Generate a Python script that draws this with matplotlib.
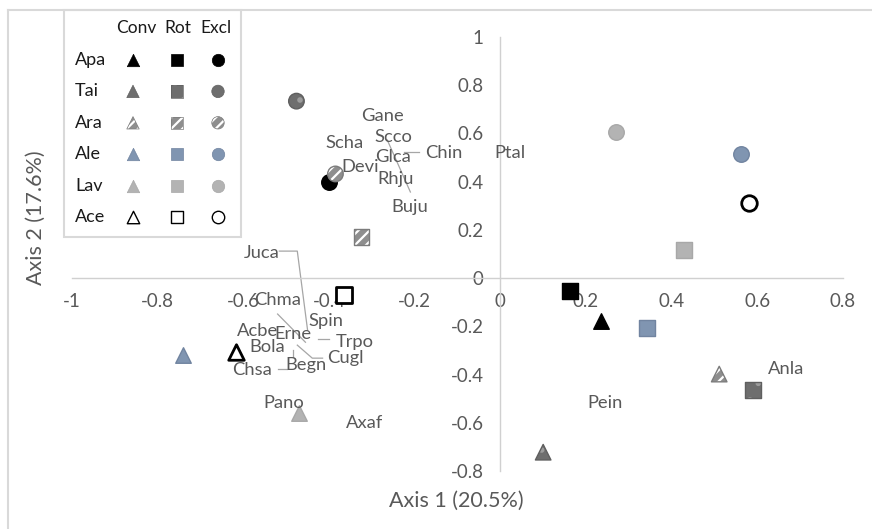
import matplotlib
matplotlib.use('Agg')
import matplotlib.pyplot as plt
from matplotlib.ticker import FixedLocator, FuncFormatter
from matplotlib.lines import Line2D
from matplotlib.patches import Rectangle

plt.rcParams['font.family'] = ['Lato', 'DejaVu Sans']
plt.rcParams['hatch.color'] = 'white'
plt.rcParams['hatch.linewidth'] = 1.6

# ---------------- data ----------------
groups = ['Apa', 'Tai', 'Ara', 'Ale', 'Lav', 'Ace']
treatments = ['Conv', 'Rot', 'Excl']

conv_x = [0.236, 0.100, 0.511, -0.742, -0.469, -0.616]
conv_y = [-0.178, -0.722, -0.398, -0.320, -0.560, -0.307]
rot_x = [0.163, 0.590, -0.324, 0.343, 0.429, -0.366]
rot_y = [-0.054, -0.465, 0.170, -0.207, 0.116, -0.071]
excl_x = [-0.401, -0.476, -0.385, 0.562, 0.271, 0.581]
excl_y = [0.398, 0.734, 0.432, 0.515, 0.606, 0.311]

species = ['Gane', 'Scco', 'Scha', 'Glca', 'Chin', 'Ptal', 'Devi', 'Rhju', 'Buju',
           'Juca', 'Chma', 'Spin', 'Acbe', 'Erne', 'Trpo', 'Bola', 'Cugl', 'Chsa',
           'Begn', 'Pano', 'Axaf', 'Pein', 'Anla']
species_x = [-0.275, -0.250, -0.364, -0.250, -0.133, 0.023, -0.327, -0.245, -0.212,
             -0.558, -0.520, -0.408, -0.567, -0.485, -0.341, -0.544, -0.362, -0.579,
             -0.453, -0.506, -0.317, 0.245, 0.667]
species_y = [0.672, 0.585, 0.560, 0.502, 0.519, 0.519, 0.461, 0.411, 0.295,
             0.104, -0.091, -0.178, -0.220, -0.232, -0.266, -0.286, -0.332, -0.382,
             -0.361, -0.519, -0.602, -0.519, -0.378]

# leader lines (label -> species score)
leaders = {
    'Juca': [(-0.516, 0.112), (-0.474, 0.112), (-0.450, -0.216)],
    'Chma': [(-0.520, -0.149), (-0.455, -0.266)],
    'Cugl': [(-0.415, -0.332), (-0.439, -0.332), (-0.474, -0.278)],
    'Trpo': [(-0.401, -0.253), (-0.425, -0.253)],
    'Begn': [(-0.485, -0.328), (-0.485, -0.299)],
    'Chsa': [(-0.520, -0.378), (-0.497, -0.378)],
    'Buju': [(-0.210, 0.357), (-0.264, 0.573)],
    'Chin': [(-0.191, 0.523), (-0.226, 0.523)],
}

x_ticks = [-1, -0.8, -0.6, -0.4, -0.2, 0, 0.2, 0.4, 0.6, 0.8]
y_ticks = [-0.8, -0.6, -0.4, -0.2, 0, 0.2, 0.4, 0.6, 0.8, 1]

# ---------------- styles ----------------
styles = {
    'Apa': dict(fc='#000000', ec='#000000', lw=1.0, hatch=None, hc=None),
    'Tai': dict(fc='#6e6e6e', ec='#5f5f5f', lw=1.0, hatch='.', hc='#9c9c9c'),
    'Ara': dict(fc='#8e8e8e', ec='#7c7c7c', lw=1.0, hatch='///', hc='#ffffff'),
    'Ale': dict(fc='#8095b1', ec='#7184a0', lw=1.0, hatch=None, hc=None),
    'Lav': dict(fc='#b3b3b3', ec='#a8a8a8', lw=1.0, hatch=None, hc=None),
    'Ace': dict(fc='#ffffff', ec='#000000', lw=2.0, hatch=None, hc=None),
}
markers = {'Conv': '^', 'Rot': 's', 'Excl': 'o'}

W, H = 872, 529
fig = plt.figure(figsize=(W / 100, H / 100), dpi=100)


def fx(px):
    return px / W


def fy(py):
    return 1 - py / H


ax = fig.add_axes([fx(72), fy(471), fx(843) - fx(72), fy(37) - fy(471)])
ax.set_xlim(-1, 0.8)
ax.set_ylim(-0.8, 1)

grey_txt = '#595959'
axis_col = '#d0d0d0'
for s in ['top', 'right']:
    ax.spines[s].set_visible(False)
ax.spines['left'].set_position(('data', 0))
ax.spines['bottom'].set_position(('data', 0))
for s in ['left', 'bottom']:
    ax.spines[s].set_color(axis_col)
    ax.spines[s].set_linewidth(1.0)

fmt = FuncFormatter(lambda v, p: f'{v:g}')
ax.xaxis.set_major_locator(FixedLocator(x_ticks))
ax.yaxis.set_major_locator(FixedLocator(y_ticks))
ax.xaxis.set_major_formatter(fmt)
ax.yaxis.set_major_formatter(fmt)
ax.tick_params(axis='x', length=0, pad=11, labelsize=13.5, labelcolor=grey_txt)
ax.tick_params(axis='y', length=0, pad=12, labelsize=13.5, labelcolor=grey_txt)


def draw_marker(axx, x, y, mk, st, size, lw_scale=1.0):
    if st['hatch']:
        axx.scatter(x, y, marker=mk, s=size, facecolors=st['fc'], edgecolors=st['hc'],
                    linewidths=0, hatch=st['hatch'], zorder=3)
        axx.scatter(x, y, marker=mk, s=size, facecolors='none', edgecolors=st['ec'],
                    linewidths=st['lw'] * lw_scale, zorder=3)
    else:
        axx.scatter(x, y, marker=mk, s=size, facecolors=st['fc'], edgecolors=st['ec'],
                    linewidths=st['lw'] * lw_scale, zorder=3)


series = {'Conv': (conv_x, conv_y), 'Rot': (rot_x, rot_y), 'Excl': (excl_x, excl_y)}
for i, g in enumerate(groups):
    for t in treatments:
        xs, ys = series[t]
        draw_marker(ax, xs[i], ys[i], markers[t], styles[g], 125)

# species labels and leader lines
for name, sx, sy in zip(species, species_x, species_y):
    ax.text(sx, sy, name, ha='center', va='center', fontsize=13.2, color=grey_txt, zorder=4)
for name, pts in leaders.items():
    ax.plot([p[0] for p in pts], [p[1] for p in pts], color='#a6a6a6', lw=0.9, zorder=2)

# axis titles
fig.text(fx(456), fy(501), 'Axis 1 (20.5%)', ha='center', va='center',
         fontsize=15.5, color=grey_txt)
fig.text(fx(36), fy(218), 'Axis 2 (17.6%)', ha='center', va='center',
         fontsize=15.5, color=grey_txt, rotation=90)

# chart border
fig.add_artist(Line2D([fx(8), 1], [fy(10), fy(10)], color='#d9d9d9', lw=1.5))
fig.add_artist(Line2D([fx(8), fx(8)], [fy(10), 0], color='#d9d9d9', lw=1.5))

# ---------------- custom legend table ----------------
lg = fig.add_axes([fx(64), fy(237), fx(241) - fx(64), fy(10) - fy(237)])
lg.set_xlim(64, 241)
lg.set_ylim(237, 10)
lg.axis('off')
lg.add_patch(Rectangle((64, 10), 177, 227, facecolor='white', edgecolor='#d9d9d9',
                       lw=1.5, zorder=0, clip_on=False))
col_x = [133, 177, 218]
hdr_x = [136, 178, 216]
row_y0, row_dy = 60, 31.4
for t, cx in zip(treatments, hdr_x):
    lg.text(cx, 28, t, ha='center', va='center', fontsize=12.5, color='#1a1a1a')
for i, g in enumerate(groups):
    ry = row_y0 + i * row_dy
    lg.text(75, ry, g, ha='left', va='center', fontsize=13, color='#1a1a1a')
    for t, cx in zip(treatments, col_x):
        draw_marker(lg, cx, ry, markers[t], styles[g], 80, lw_scale=0.5)

fig.savefig('out.png', dpi=100)
